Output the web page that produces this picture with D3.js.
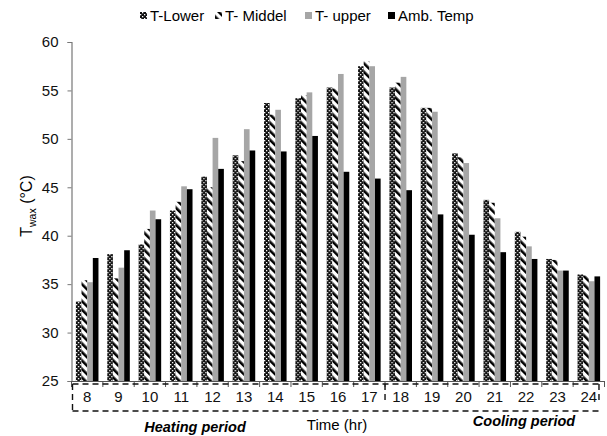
<!DOCTYPE html>
<html>
<head>
<meta charset="utf-8">
<script src="https://cdn.jsdelivr.net/npm/d3@7"></script>
<style>
  body { margin: 0; background: #fff; }
  svg { font-family: "Liberation Sans", Arial, sans-serif; }
</style>
</head>
<body>
<div id="chart"></div>
<script>
// data
const hours = ["8", "9", "10", "11", "12", "13", "14", "15", "16", "17", "18", "19", "20", "21", "22", "23", "24"]
const tLower = [33.2, 38.1, 39.1, 42.6, 46.1, 48.3, 53.7, 54.2, 55.3, 57.5, 55.3, 53.2, 48.5, 43.7, 40.4, 37.6, 36.0]
const tMiddel = [35.4, 35.6, 40.7, 43.5, 45.0, 47.7, 52.5, 54.5, 55.2, 58.0, 55.8, 53.2, 48.1, 43.4, 39.9, 37.5, 35.9]
const tUpper = [35.2, 36.7, 42.6, 45.1, 50.1, 51.0, 53.0, 54.8, 56.7, 57.5, 56.4, 52.8, 47.5, 41.8, 38.9, 36.4, 35.3]
const ambTemp = [37.7, 38.5, 41.7, 44.8, 46.9, 48.8, 48.7, 50.3, 46.6, 45.9, 44.7, 42.2, 40.1, 38.3, 37.6, 36.4, 35.8]
const seriesNames = ["T-Lower", "T- Middel", "T- upper", "Amb. Temp"]
const yTicks = [25, 30, 35, 40, 45, 50, 55, 60]

const W = 607, H = 436
const LEFT = 71.5, RIGHT = 604.5, TOP = 42, BOTTOM = 381

const svg = d3.select("#chart").append("svg")
    .attr("width", W)
    .attr("height", H)

// fill patterns
const defs = svg.append("defs")
const checker = defs.append("pattern")
    .attr("id", "checker")
    .attr("patternUnits", "userSpaceOnUse")
    .attr("width", 4).attr("height", 4)
checker.append("rect").attr("width", 4).attr("height", 4).attr("fill", "#111")
checker.append("rect").attr("x", 0).attr("y", 0).attr("width", 1.3).attr("height", 1.3).attr("fill", "#fff")
checker.append("rect").attr("x", 2).attr("y", 2).attr("width", 1.3).attr("height", 1.3).attr("fill", "#fff")

// wide downward diagonal
const stripes = defs.append("pattern")
    .attr("id", "stripes")
    .attr("patternUnits", "userSpaceOnUse")
    .attr("width", 6).attr("height", 6)
    .attr("patternTransform", "rotate(-45)")
stripes.append("rect").attr("width", 6).attr("height", 6).attr("fill", "#fff")
stripes.append("rect").attr("x", 0).attr("width", 2.6).attr("height", 6).attr("fill", "#000")

const fills = ["url(#checker)", "url(#stripes)", "#a6a6a6", "#000"]
const seriesData = [tLower, tMiddel, tUpper, ambTemp]

// scales
const x = d3.scaleBand()
    .domain(hours)
    .range([LEFT, RIGHT])
    .paddingInner(0.28)
    .paddingOuter(0.14)

const xs = d3.scaleBand()
    .domain(d3.range(seriesNames.length))
    .range([0, x.bandwidth()])

const y = d3.scaleLinear()
    .domain([25, 60])
    .range([BOTTOM, TOP])

// bars
const groups = svg.append("g")
    .selectAll("g")
    .data(hours)
    .join("g")
    .attr("transform", d => "translate(" + x(d) + ",0)")

groups.selectAll("rect")
    .data((h, i) => seriesData.map((s, k) => ({ k: k, v: s[i] })))
    .join("rect")
    .attr("x", d => xs(d.k))
    .attr("width", xs.bandwidth())
    .attr("y", d => y(d.v))
    .attr("height", d => y(25) - y(d.v))
    .attr("fill", d => fills[d.k])

// y axis
const yAxis = svg.append("g")
    .attr("transform", "translate(" + LEFT + ",0)")
    .call(d3.axisLeft(y).tickValues(yTicks).tickSize(4).tickPadding(9))
yAxis.select(".domain").attr("stroke", "#777").attr("stroke-width", 1.2)
yAxis.selectAll(".tick line").attr("stroke", "#777")
yAxis.selectAll("text").attr("font-size", 15).attr("fill", "#111")
    .attr("font-family", "Liberation Sans, Arial")

// x axis
const xAxis = svg.append("g")
    .attr("transform", "translate(0," + BOTTOM + ")")
    .call(d3.axisBottom(x).tickSize(0).tickPadding(10))
xAxis.select(".domain").attr("stroke", "#555").attr("stroke-width", 1)
xAxis.selectAll("text").attr("font-size", 15).attr("fill", "#111")
    .attr("font-family", "Liberation Sans, Arial")

// boundary ticks between categories
const step = x.step()
const bounds = hours.map(h => x(h) - step * x.paddingInner() / 2).concat([RIGHT])
svg.append("g").selectAll("line")
    .data(bounds)
    .join("line")
    .attr("x1", d => d).attr("x2", d => d)
    .attr("y1", BOTTOM).attr("y2", BOTTOM + 6)
    .attr("stroke", "#555")

// dashed boxes for the periods
const dash = "6,4"
const boxTop = BOTTOM + 3, boxBottom = 411
const xStart = LEFT + 1
const xSplit = x("18") - step * x.paddingInner() / 2
const xEnd = x("24") + x.bandwidth() * 0.95
const box = svg.append("g")
    .attr("fill", "none")
    .attr("stroke", "#111")
    .attr("stroke-width", 1.4)
    .attr("stroke-dasharray", dash)
box.append("line").attr("x1", xStart).attr("x2", xEnd).attr("y1", boxTop).attr("y2", boxTop)
box.append("line").attr("x1", xStart).attr("x2", xEnd).attr("y1", boxBottom).attr("y2", boxBottom)
box.append("line").attr("x1", xStart).attr("x2", xStart).attr("y1", boxTop).attr("y2", boxBottom)
box.append("line").attr("x1", xSplit).attr("x2", xSplit).attr("y1", boxTop).attr("y2", boxBottom - 10)
box.append("line").attr("x1", xEnd).attr("x2", xEnd).attr("y1", boxTop).attr("y2", boxBottom - 10)

// axis titles
svg.append("text")
    .attr("x", 337).attr("y", 430)
    .attr("text-anchor", "middle")
    .attr("font-size", 15)
    .text("Time (hr)")

svg.append("text")
    .attr("x", 195).attr("y", 432)
    .attr("text-anchor", "middle")
    .attr("font-size", 14.5)
    .attr("font-weight", "bold")
    .attr("font-style", "italic")
    .text("Heating period")

svg.append("text")
    .attr("x", 524).attr("y", 426)
    .attr("text-anchor", "middle")
    .attr("font-size", 14.5)
    .attr("font-weight", "bold")
    .attr("font-style", "italic")
    .text("Cooling period")

const yTitle = svg.append("text")
    .attr("transform", "translate(32,206) rotate(-90)")
    .attr("text-anchor", "middle")
    .attr("font-size", 16)
yTitle.append("tspan").text("T")
yTitle.append("tspan").attr("font-size", 10.5).attr("dy", 4).text("wax")
yTitle.append("tspan").attr("dy", -4).text(" (°C)")

// legend
const legendX = [140, 215, 305, 388]
const legend = svg.append("g")
    .selectAll("g")
    .data(seriesNames)
    .join("g")
    .attr("transform", (d, i) => "translate(" + legendX[i] + ",10)")
legend.append("rect")
    .attr("width", 7).attr("height", 7)
    .attr("y", 2)
    .attr("fill", (d, i) => fills[i])
legend.append("text")
    .attr("x", 10).attr("y", 10.5)
    .attr("font-size", 15)
    .text(d => d)
</script>
</body>
</html>
